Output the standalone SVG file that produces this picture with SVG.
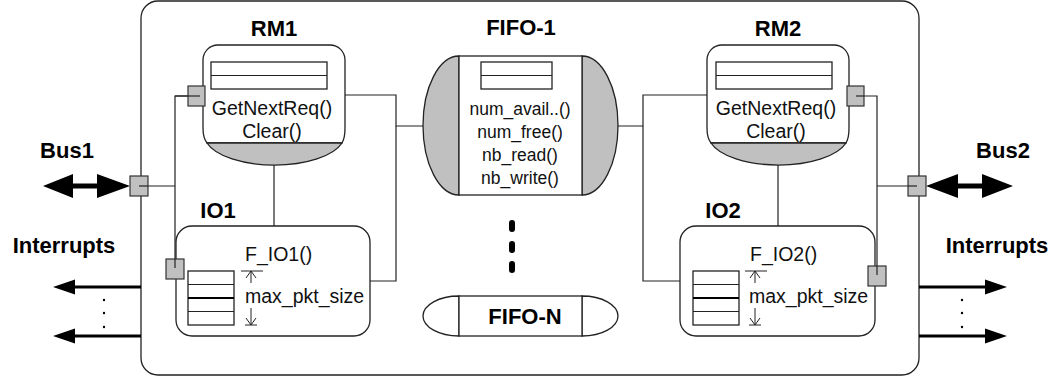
<svg xmlns="http://www.w3.org/2000/svg" width="1060" height="380" viewBox="0 0 1060 380">
  <style>
    .ln { fill: none; stroke: #222; stroke-width: 1.2; }
    .box { fill: #fff; stroke: #222; stroke-width: 1.3; }
    .grey { fill: #c0c0c0; stroke: #222; stroke-width: 1.3; }
    .port { fill: #c0c0c0; stroke: #333; stroke-width: 1.2; }
    .title { font-family: "Liberation Sans", Arial, sans-serif; font-weight: bold; font-size: 22px; fill: #000; }
    .txt { font-family: "Liberation Sans", Arial, sans-serif; font-size: 19.5px; fill: #111; }
    .small { font-family: "Liberation Sans", Arial, sans-serif; font-size: 17.5px; fill: #111; }
    .thick { fill: #000; stroke: none; }
    .dim { fill: none; stroke: #222; stroke-width: 1; }
  </style>
  <defs>
    <g id="stack">
      <rect x="0" y="0" width="46" height="54" class="box" stroke-width="1.2"/>
      <line x1="0" y1="13.5" x2="46" y2="13.5" class="dim"/>
      <line x1="0" y1="27" x2="46" y2="27" stroke="#000" stroke-width="2.2"/>
      <line x1="0" y1="40.5" x2="46" y2="40.5" class="dim"/>
    </g>
    <g id="dimension">
      <line x1="-10" y1="0" x2="12" y2="0" class="dim"/>
      <line x1="0" y1="0" x2="0" y2="12" class="dim"/>
      <polyline points="-5,7 0,0 5,7" class="dim"/>
      <line x1="-6" y1="54" x2="6" y2="54" class="dim"/>
      <line x1="0" y1="54" x2="0" y2="37" class="dim"/>
      <polyline points="-5,47 0,54 5,47" class="dim"/>
    </g>
  </defs>

  <!-- enclosing module -->
  <rect id="module" x="141" y="1" width="778" height="374" rx="17" ry="17" class="box"/>

  <!-- connectors -->
  <g id="connectors">
    <polyline points="200,96 175,96 175,268" class="ln"/>
    <polyline points="139,186 175,186" class="ln"/>
    <line x1="274" y1="165" x2="274" y2="226" class="ln"/>
    <polyline points="345,95 396,95 396,126 423,126" class="ln"/>
    <polyline points="396,126 396,281 370,281" class="ln"/>
    <polyline points="618,126 643,126 643,95 707,95" class="ln"/>
    <polyline points="643,126 643,281 680,281" class="ln"/>
    <line x1="778" y1="165" x2="778" y2="226" class="ln"/>
    <polyline points="856,96 877,96 877,275" class="ln"/>
    <polyline points="877,186 917,186" class="ln"/>

    <!-- Bus1 double arrow -->
    <polygon class="thick" points="43,186 73,174 73,183.5 97,183.5 97,174 130,186 97,198 97,188.5 73,188.5 73,198"/>
    <!-- Bus2 double arrow -->
    <polygon class="thick" points="926,186 958,174 958,183.5 982,183.5 982,174 1013,186 982,198 982,188.5 958,188.5 958,198"/>

    <!-- left interrupt lines -->
    <line x1="141" y1="287" x2="72" y2="287" stroke="#000" stroke-width="3"/>
    <polygon class="thick" points="53,287 75,279.5 75,294.5"/>
    <line x1="141" y1="336" x2="72" y2="336" stroke="#000" stroke-width="3"/>
    <polygon class="thick" points="53,336 75,328.5 75,343.5"/>
    <circle cx="104" cy="300" r="1.2" fill="#000"/>
    <circle cx="104" cy="313" r="1.2" fill="#000"/>
    <circle cx="104" cy="327" r="1.2" fill="#000"/>

    <!-- right interrupt lines -->
    <line x1="919" y1="287" x2="988" y2="287" stroke="#000" stroke-width="3"/>
    <polygon class="thick" points="1007,287 985,279.5 985,294.5"/>
    <line x1="919" y1="336" x2="988" y2="336" stroke="#000" stroke-width="3"/>
    <polygon class="thick" points="1007,336 985,328.5 985,343.5"/>
    <circle cx="962" cy="300" r="1.2" fill="#000"/>
    <circle cx="962" cy="313" r="1.2" fill="#000"/>
    <circle cx="962" cy="327" r="1.2" fill="#000"/>
  </g>

  <!-- external labels -->
  <g id="bus1-label"><text class="title" x="67" y="158" text-anchor="middle">Bus1</text></g>
  <g id="bus2-label"><text class="title" x="1003" y="158" text-anchor="middle">Bus2</text></g>
  <g id="irq-left-label"><text class="title" x="64" y="253" text-anchor="middle" font-size="23">Interrupts</text></g>
  <g id="irq-right-label"><text class="title" x="997" y="253" text-anchor="middle" font-size="23">Interrupts</text></g>

  <!-- RM1 -->
  <g id="rm1">
    <text class="title" x="274" y="36" text-anchor="middle">RM1</text>
    <path class="box" d="M207,143 Q203,138 203,128 V60 A15,15 0 0 1 218,45 H330 A15,15 0 0 1 345,60 V128 Q345,138 342,143 Z"/>
    <path class="grey" d="M207,143 A70,30 0 0 0 342,143 Z"/>
    <rect class="box" x="211" y="62" width="116" height="27"/>
    <line class="ln" x1="211" y1="75.5" x2="327" y2="75.5"/>
    <text class="txt" x="272" y="115" text-anchor="middle">GetNextReq()</text>
    <text class="txt" x="272" y="138" text-anchor="middle">Clear()</text>
  </g>

  <!-- RM2 -->
  <g id="rm2">
    <text class="title" x="778" y="36" text-anchor="middle">RM2</text>
    <path class="box" d="M711,143 Q707,138 707,128 V60 A15,15 0 0 1 722,45 H834 A15,15 0 0 1 849,60 V128 Q849,138 846,143 Z"/>
    <path class="grey" d="M711,143 A70,30 0 0 0 846,143 Z"/>
    <rect class="box" x="716" y="62" width="116" height="27"/>
    <line class="ln" x1="716" y1="75.5" x2="832" y2="75.5"/>
    <text class="txt" x="776" y="115" text-anchor="middle">GetNextReq()</text>
    <text class="txt" x="776" y="138" text-anchor="middle">Clear()</text>
  </g>

  <!-- FIFO-1 -->
  <g id="fifo1">
    <text class="title" x="521" y="35" text-anchor="middle">FIFO-1</text>
    <path class="grey" d="M459,56 A36,69.5 0 0 0 459,195 Z"/>
    <path class="grey" d="M582,56 A36,69.5 0 0 1 582,195 Z"/>
    <rect class="box" x="459" y="56" width="123" height="139"/>
    <rect class="box" x="481" y="62" width="71" height="27"/>
    <line class="ln" x1="481" y1="75.5" x2="552" y2="75.5"/>
    <text class="small" x="520" y="115" text-anchor="middle">num_avail..()</text>
    <text class="small" x="520" y="138" text-anchor="middle">num_free()</text>
    <text class="small" x="520" y="161" text-anchor="middle">nb_read()</text>
    <text class="small" x="520" y="184" text-anchor="middle">nb_write()</text>
  </g>

  <!-- ellipsis between FIFOs -->
  <g id="fifo-ellipsis">
    <rect x="509" y="220" width="6" height="12" rx="3" fill="#000"/>
    <rect x="509" y="241" width="6" height="12" rx="3" fill="#000"/>
    <rect x="509" y="261" width="6" height="12" rx="3" fill="#000"/>
  </g>

  <!-- FIFO-N -->
  <g id="fifon">
    <path class="box" d="M459,296 A36,20 0 0 0 459,336 Z"/>
    <path class="box" d="M582,296 A36,20 0 0 1 582,336 Z"/>
    <rect class="box" x="459" y="296" width="123" height="40"/>
    <text class="title" x="525" y="324" text-anchor="middle" font-size="23">FIFO-N</text>
  </g>

  <!-- IO1 -->
  <g id="io1">
    <text class="title" x="218" y="218" text-anchor="middle">IO1</text>
    <rect class="box" x="176" y="226" width="194" height="110" rx="16" ry="16"/>
    <text class="txt" x="245" y="261">F_IO1()</text>
    <use href="#stack" x="188" y="271"/>
    <use href="#dimension" x="251" y="271"/>
    <text class="txt" x="245" y="303">max_pkt_size</text>
  </g>

  <!-- IO2 -->
  <g id="io2">
    <text class="title" x="723" y="218" text-anchor="middle">IO2</text>
    <rect class="box" x="680" y="226" width="195" height="110" rx="16" ry="16"/>
    <text class="txt" x="750" y="261">F_IO2()</text>
    <use href="#stack" x="693" y="271"/>
    <use href="#dimension" x="755" y="271"/>
    <text class="txt" x="749" y="303">max_pkt_size</text>
  </g>

  <!-- ports -->
  <g id="ports">
    <rect class="port" x="188" y="86" width="17" height="20"/>
    <rect class="port" x="130" y="176" width="18" height="20"/>
    <rect class="port" x="166" y="259" width="18" height="20"/>
    <rect class="port" x="847" y="86" width="17" height="20"/>
    <rect class="port" x="908" y="176" width="18" height="20"/>
    <rect class="port" x="868" y="266" width="18" height="20"/>
  </g>
  <!-- port stubs drawn over the port squares -->
  <g id="port-stubs">
    <line class="ln" x1="175" y1="96" x2="200" y2="96"/>
    <line class="ln" x1="139" y1="186" x2="148" y2="186"/>
    <line class="ln" x1="175" y1="259" x2="175" y2="268"/>
    <line class="ln" x1="856" y1="96" x2="864" y2="96"/>
    <line class="ln" x1="908" y1="186" x2="917" y2="186"/>
    <line class="ln" x1="877" y1="266" x2="877" y2="275"/>
  </g>
</svg>
